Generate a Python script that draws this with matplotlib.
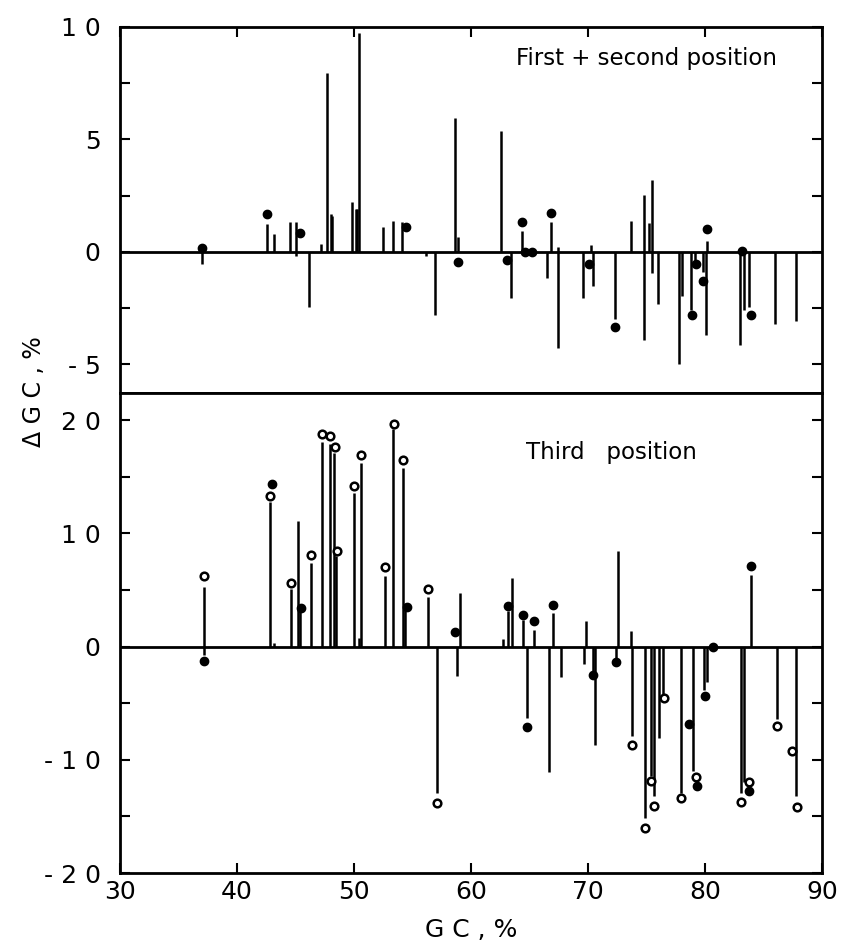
# GC shift per gene: first+second position (top) and third position (bottom)

import numpy as np
import matplotlib.pyplot as plt

# ---- top panel: first + second codon position ----
top_stem_x = [37.0, 42.6, 43.2, 44.5, 45.05, 45.05, 46.15, 47.2, 47.7, 48.0,
              48.1, 49.8, 50.15, 50.3, 50.45, 52.5, 53.3, 54.07, 56.2, 56.9,
              58.6, 58.9, 62.6, 63.4, 64.36, 66.5, 66.84, 67.46, 67.46, 69.6,
              70.3, 70.45, 72.3, 73.7, 74.75, 74.75, 75.2, 75.5, 75.5, 76.0,
              77.8, 78.0, 78.85, 79.15, 79.8, 80.1, 80.2, 83.0, 83.3, 83.76,
              86.0, 87.75]
top_stem_y = [-0.55, 1.24, 0.79, 1.32, 1.32, -0.2, -2.43, 0.34, 7.97, 1.67,
              1.6, 2.2, 1.9, 1.9, 9.72, 1.12, 1.37, 1.35, -0.2, -2.8,
              5.94, 0.68, 5.39, -2.03, 0.95, -1.17, 1.35, 0.24, -4.28, -2.03,
              0.31, -1.51, -3.0, 1.37, 2.53, -3.9, 1.3, 3.2, -0.94, -2.3,
              -4.97, -1.95, -2.6, -0.5, -0.9, -3.7, 0.5, -4.15, -2.6, -2.45,
              -3.2, -3.05]
top_dot_x = [37.0, 42.6, 45.4, 54.44, 58.9, 63.05, 64.36, 64.6, 65.2, 66.84,
             70.1, 72.3, 78.9, 79.2, 79.8, 80.2, 83.2, 83.9]
top_dot_y = [0.18, 1.7, 0.83, 1.13, -0.43, -0.36, 1.35, 0.0, 0.0, 1.75,
             -0.55, -3.35, -2.8, -0.55, -1.27, 1.0, 0.05, -2.8]

# ---- bottom panel: third codon position ----
bot_stem_x = [37.15, 37.15, 42.8, 43.2, 44.6, 45.2, 45.4, 46.3, 47.3, 47.98,
              48.3, 48.5, 49.97, 50.46, 50.63, 52.65, 53.36, 54.15, 54.4, 56.3,
              57.06, 58.8, 59.06, 62.76, 63.2, 63.5, 64.47, 64.76, 65.4, 66.7,
              67.0, 67.66, 69.7, 69.86, 70.4, 70.6, 72.4, 72.6, 73.7, 73.75,
              74.87, 75.4, 75.67, 76.1, 76.4, 77.95, 79.0, 79.9, 80.2, 83.1,
              83.3, 83.9, 86.2, 87.8]
bot_stem_y = [5.3, -0.7, 12.8, 0.3, 5.1, 11.06, 3.4, 7.4, 18.1, 17.9,
              17.1, 8.0, 13.6, 0.77, 16.2, 6.2, 19.2, 15.8, 3.6, 4.4,
              -12.9, -2.56, 4.7, 0.7, 3.1, 6.1, 2.35, -6.3, 1.5, -11.1,
              3.0, -2.7, -1.5, 2.3, -2.5, -8.65, -1.0, 8.4, 1.4, -7.9,
              -15.1, -11.4, -13.2, -8.1, -4.4, -12.9, -11.0, -3.8, -3.1, -12.9,
              -12.0, 6.35, -6.4, -13.2]
bot_open_x = [37.15, 42.8, 44.6, 46.3, 47.3, 47.98, 48.34, 48.57, 49.97, 50.63,
              52.65, 53.4, 54.15, 56.3, 57.06, 73.8, 74.87, 75.4, 75.67, 76.5,
              77.95, 79.2, 83.1, 83.76, 86.2, 87.46, 87.9]
bot_open_y = [6.2, 13.3, 5.6, 8.06, 18.8, 18.56, 17.6, 8.4, 14.15, 16.9,
              7.0, 19.7, 16.5, 5.1, -13.8, -8.7, -16.0, -11.9, -14.1, -4.5,
              -13.4, -11.5, -13.7, -12.0, -7.05, -9.2, -14.15]
bot_dot_x = [37.15, 43.0, 45.5, 54.5, 58.6, 63.13, 64.47, 64.76, 65.4, 67.0,
             70.4, 72.4, 78.6, 79.3, 80.0, 80.7, 83.76, 83.9]
bot_dot_y = [-1.3, 14.4, 3.4, 3.5, 1.25, 3.6, 2.8, -7.1, 2.3, 3.65,
             -2.55, -1.4, -6.8, -12.3, -4.4, 0.0, -12.8, 7.15]

x_ticks = [30, 40, 50, 60, 70, 80, 90]

plt.rcParams['font.family'] = 'DejaVu Sans'
fig = plt.figure(figsize=(8.43, 9.44), dpi=100)
ax1 = fig.add_axes([0.1423, 0.5837, 0.8327, 0.3877])
ax2 = fig.add_axes([0.1423, 0.0752, 0.8327, 0.5085])

def style(ax):
    for s in ax.spines.values():
        s.set_linewidth(2)
    ax.tick_params(which='both', direction='in', length=7, width=1.5,
                   labelsize=18, top=True, right=True, left=True, bottom=True)
    ax.tick_params(axis='y', pad=14)
    ax.tick_params(axis='x', pad=5)
    ax.axhline(0, color='black', lw=2, zorder=1)
    ax.set_xlim(30, 90)
    ax.set_xticks(x_ticks)

# top
style(ax1)
ax1.vlines(top_stem_x, 0, top_stem_y, color='black', lw=1.8, zorder=2)
ax1.plot(top_dot_x, top_dot_y, 'o', color='black', ms=6, zorder=3)
ax1.set_ylim(-6.27, 10)
ax1.set_yticks([-5, 0, 5, 10])
ax1.set_yticklabels(['- 5', '0', '5', '1 0'])
ax1.set_yticks([-2.5, 2.5, 7.5], minor=True)
ax1.tick_params(which='both', bottom=False, labelbottom=False)
ax1.text(0.75, 0.915, 'First + second position', transform=ax1.transAxes,
         ha='center', va='center', fontsize=16.5)

# bottom
style(ax2)
ax2.vlines(bot_stem_x, 0, bot_stem_y, color='black', lw=1.8, zorder=2)
ax2.plot(bot_dot_x, bot_dot_y, 'o', color='black', ms=6, zorder=3)
ax2.plot(bot_open_x, bot_open_y, 'o', mfc='white', mec='black', ms=5.5,
         mew=1.8, zorder=3)
ax2.set_ylim(-20, 22.4)
ax2.set_yticks([-20, -10, 0, 10, 20])
ax2.set_yticklabels(['- 2 0', '- 1 0', '0', '1 0', '2 0'])
ax2.set_yticks([-15, -5, 5, 15], minor=True)
ax2.tick_params(top=False, which='both')
ax2.text(0.70, 0.877, 'Third   position', transform=ax2.transAxes,
         ha='center', va='center', fontsize=16.5)
ax2.set_xlabel('G C , %', fontsize=18, labelpad=10)

fig.text(0.04, 0.585, 'Δ G C , %', rotation=90, ha='center', va='center',
         fontsize=17)

fig.savefig('out.png', dpi=100)
